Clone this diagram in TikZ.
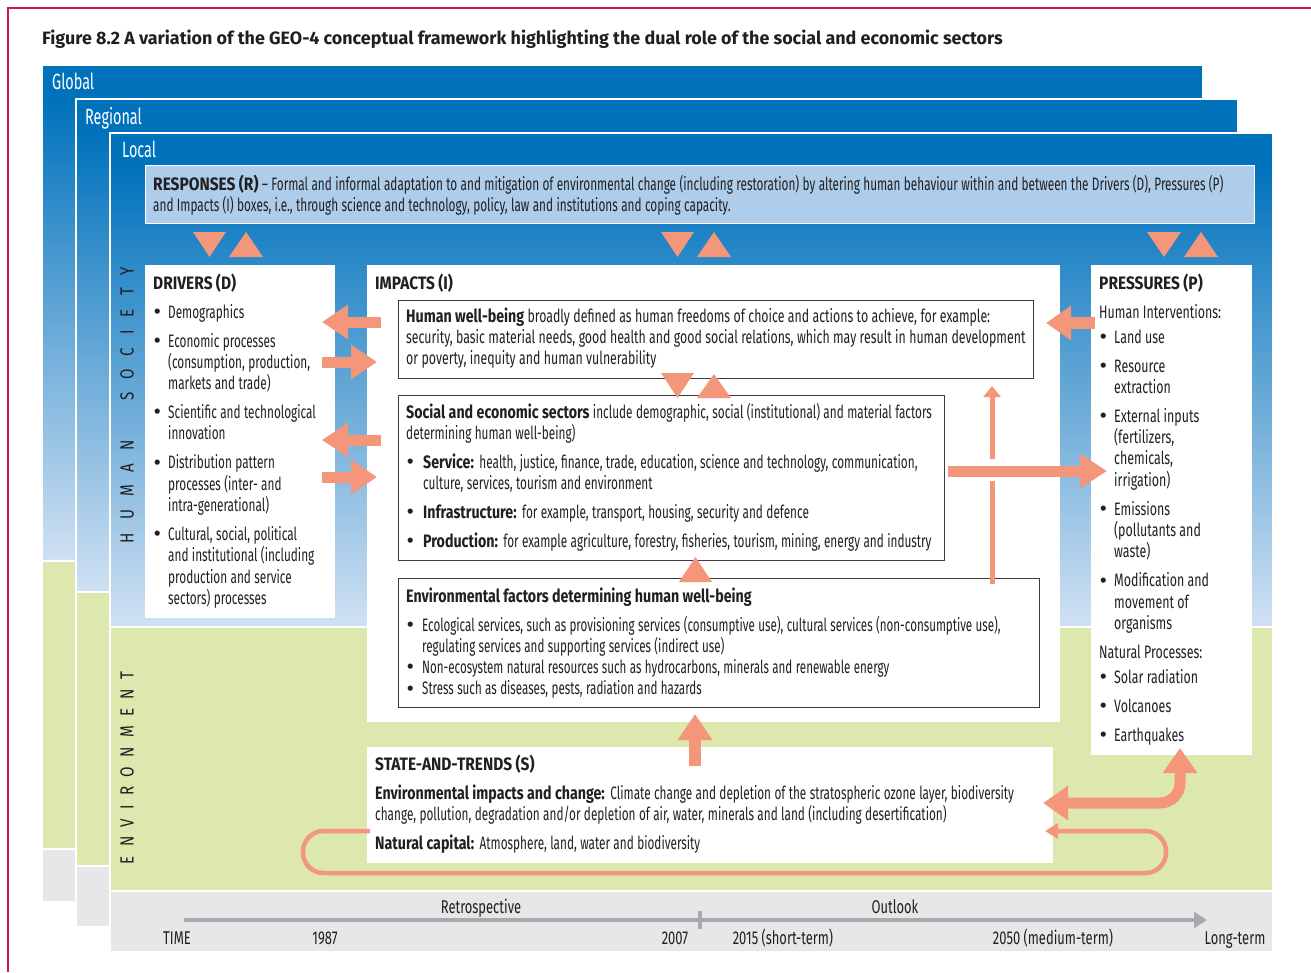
\documentclass[tikz,border=0pt]{standalone}
\usepackage{fontspec}
\setmainfont{Fira Sans}[FakeStretch=0.655]
\newfontfamily\hbfont{Fira Sans}[FakeStretch=0.79]
\newfontfamily\hdfont{Fira Sans}[FakeStretch=0.86]
\newfontfamily\prfont{Fira Sans}[FakeStretch=0.69]
\newfontfamily\hwfont{Fira Sans}[FakeStretch=0.685]
\newfontfamily\enfont{Fira Sans}[FakeStretch=0.645]
\newfontfamily\tmfont{Fira Sans}[FakeStretch=0.70]
\newfontfamily\plainfont{Fira Sans}
\newfontfamily\vfont{Fira Sans}[FakeStretch=0.8]
\usetikzlibrary{arrows.meta}
\definecolor{dkblue}{RGB}{0,114,188}
\definecolor{ltblue}{RGB}{208,225,243}
\definecolor{respc}{RGB}{173,205,235}
\definecolor{greenc}{RGB}{220,232,173}
\definecolor{greyc}{RGB}{230,231,232}
\definecolor{salmon}{RGB}{244,150,122}
\definecolor{axisc}{RGB}{167,169,172}
\definecolor{txtc}{RGB}{35,31,32}
\definecolor{framec}{RGB}{196,30,72}
\definecolor{boxc}{RGB}{60,60,60}
\newcommand\bld[1]{{\hbfont\bfseries #1}}
\newcommand\hdg[1]{{\hdfont\bfseries #1}}
\newcommand\bul{\smash{\plainfont\fontsize{23}{20}\selectfont\raisebox{-1.2pt}{•}}}
\newcommand\itm[2][15pt]{\par\hangindent=#1\hangafter=1\noindent\makebox[#1][l]{\hspace{0.5pt}\bul}#2}
\newcommand\drawlayer[7]{%
  \fill[greyc] (#1,#6) rectangle (#4,#7);
  \fill[greenc] (#1,#5) rectangle (#4,#6);
  \shade[top color=dkblue, bottom color=ltblue] (#1,#3) rectangle (#4,#5);
  \fill[dkblue] (#1,#2) rectangle (#4,#3);
  \draw[white, line width=1.3pt] (#1,#5) -- (#4,#5) (#1,#6) -- (#4,#6);
  \draw[white, line width=1.5pt] (#1,#2) rectangle (#4,#7);
}
\newcommand\gp{\hspace{13pt}}
\newcommand\gq{\hspace{9.3pt}}
\newcommand\wsp{\nonfrenchspacing\spaceskip=3.4pt plus 1pt minus 0.5pt\relax\xspaceskip=5.5pt plus 1pt minus 0.5pt\relax}
\begin{document}
\begin{tikzpicture}[x=1pt,y=-1pt,
  txt/.style={anchor=base west, inner sep=0pt, align=left, text=txtc,
    font=\fontsize{18}{21.3}\selectfont},
  lbl/.style={anchor=base, inner sep=0pt, text=txtc, font=\tmfont\fontsize{18.5}{21}\selectfont\wsp},
  layerlbl/.style={anchor=base west, inner sep=0pt, text=white, font=\fontsize{22}{24}\selectfont},
  whitebox/.style={anchor=north west, fill=white, draw=none, inner sep=0pt},
  framebox/.style={anchor=north west, fill=white, draw=boxc, line width=0.9pt, inner sep=0pt},
  respbox/.style={anchor=north west, fill=respc, draw=white, line width=1pt, inner sep=0pt},
  barrow/.style={draw=salmon, line width=11pt, -{Triangle[length=26pt,width=33pt]}},
  thinarrow/.style={draw=salmon, line width=5pt, -{Triangle[length=11pt,width=17pt]}},
  tri/.style={fill=salmon},
  vlbl/.style={rotate=90, anchor=center, inner sep=0pt, text=txtc, font=\vfont\fontsize{19}{21}\selectfont}
]
\useasboundingbox (0,0) rectangle (1311,972);
\fill[white] (0,0) rectangle (1311,972);
\draw[framec, line width=1.4pt] (8,972) -- (8,8) -- (1311,8);

\node[anchor=base west, inner sep=0pt, text=txtc, font=\plainfont\bfseries\fontsize{17.9}{20}\selectfont] (title) at (42,44)
  {Figure 8.2 A variation of the GEO-4 conceptual framework highlighting the dual role of the social and economic sectors};

% layers
\drawlayer{42}{65}{98}{1203}{561}{849}{902}
\drawlayer{76}{99}{132}{1238}{592}{866}{927}
\drawlayer{110}{133}{165}{1273}{627}{891}{952}
\node[layerlbl] (lglobal) at (52,89) {Global};
\node[layerlbl] (lregional) at (85,124) {Regional};
\node[layerlbl] (llocal) at (122,157) {Local};

% boxes
\node[respbox, minimum width=1109pt, minimum height=58pt] (resp) at (145,165) {};
\node[whitebox, minimum width=190pt, minimum height=353pt] (drivers) at (145,265) {};
\node[whitebox, minimum width=693pt, minimum height=457pt] (impacts) at (367,265) {};
\node[whitebox, minimum width=161pt, minimum height=490pt] (pressures) at (1091,265) {};
\node[whitebox, minimum width=686pt, minimum height=116pt] (state) at (367,747) {};
\node[framebox, minimum width=635pt, minimum height=78pt] (hwb) at (398,300) {};
\node[framebox, minimum width=546pt, minimum height=165pt] (social) at (398,395) {};
\node[framebox, minimum width=641pt, minimum height=129pt] (envf) at (398,578) {};

% triangles
\fill[tri] (193,232) -- (226,232) -- (209.5,257) -- cycle;
\fill[tri] (229,257) -- (263,257) -- (246,232) -- cycle;
\fill[tri] (661,232) -- (694,232) -- (677.5,257) -- cycle;
\fill[tri] (697,257) -- (731,257) -- (714,232) -- cycle;
\fill[tri] (1147,232) -- (1181,232) -- (1164,257) -- cycle;
\fill[tri] (1184,257) -- (1218,257) -- (1201,232) -- cycle;
\fill[tri] (661,373) -- (694,373) -- (677.5,398) -- cycle;
\fill[tri] (697,398) -- (731,398) -- (714,374) -- cycle;
\fill[tri] (679,582) -- (712,582) -- (695.5,557) -- cycle;

% block arrows
\coordinate (a1s) at (381,322); \coordinate (a1e) at (322,322);
\coordinate (a2s) at (322,362); \coordinate (a2e) at (377,362);
\coordinate (a3s) at (381,440); \coordinate (a3e) at (322,440);
\coordinate (a4s) at (322,477); \coordinate (a4e) at (377,477);
\draw[barrow] (a1s) -- (a1e);
\draw[barrow] (a2s) -- (a2e);
\draw[barrow] (a3s) -- (a3e);
\draw[barrow] (a4s) -- (a4e);
\coordinate (p1s) at (1095,323); \coordinate (p1e) at (1046,323);
\draw[barrow, line width=12pt, -{Triangle[length=25pt,width=33pt]}] (p1s) -- (p1e);
\coordinate (v1a) at (992,584); \coordinate (v1b) at (992,481);
\coordinate (v1c) at (992,459); \coordinate (v1d) at (992,386);
\draw[salmon, line width=5pt] (v1a) -- (v1b);
\draw[thinarrow] (v1c) -- (v1d);
\coordinate (h1s) at (948,471); \coordinate (h1e) at (1107,471);
\draw[barrow, -{Triangle[length=27pt,width=33pt]}] (h1s) -- (h1e);
\coordinate (u1s) at (695,766); \coordinate (u1e) at (695,714);
\draw[barrow, line width=12pt] (u1s) -- (u1e);
\coordinate (c1) at (1043,803); \coordinate (c2) at (1180,748);
\draw[draw=salmon, line width=11pt, rounded corners=20pt,
  {Triangle[length=25pt,width=33pt]}-{Triangle[length=25pt,width=33pt]}] (c1) -| (c2);
\coordinate (l0) at (370,831); \coordinate (l1) at (303,831); \coordinate (l2) at (303,873);
\coordinate (l3) at (1166,873); \coordinate (l4) at (1166,831); \coordinate (l5) at (1045,831);
\draw[salmon, line width=4.5pt, rounded corners=20.5pt, -{Triangle[length=13pt,width=15pt]}]
  (l0) -- (l1) -- (l2) -- (l3) -- (l4) -- (l5);

% time axis
\coordinate (t0) at (184,920); \coordinate (t1) at (1207,920);
\draw[axisc, line width=3.5pt, -{Triangle[length=13pt,width=16pt]}] (t0) -- (t1);
\coordinate (tk0) at (700,911); \coordinate (tk1) at (700,929);
\draw[axisc, line width=3.5pt] (tk0) -- (tk1);
\node[lbl] (retro) at (481,913) {Retrospective};
\node[lbl] (outlook) at (895,913) {Outlook};
\node[lbl] (time) at (177,944) {TIME};
\node[lbl] (y1987) at (325,944) {1987};
\node[lbl] (y2007) at (675,944) {2007};
\node[lbl] (y2015) at (783,944) {2015 (short-term)};
\node[lbl] (y2050) at (1053,944) {2050 (medium-term)};
\node[lbl] (ylong) at (1235,944) {Long-term};

% vertical labels
\node[vlbl] (hs) at (127,405) {H\gp U\gp M\gp A\gp N\gp\gp\gp S\gp O\gp C\gp I\gp E\gp T\gp Y};
\node[vlbl] (en) at (127,768) {E\gq N\gq V\gq I\gq R\gq O\gq N\gq M\gq E\gq N\gq T};

% texts
\node[txt, text width=1105pt] (resptx) at (153,190) {\wsp\hdg{RESPONSES (R)} – Formal and informal adaptation to and mitigation of environmental change (including restoration) by altering human behaviour within and between the Drivers (D), Pressures (P)\newline and Impacts (I) boxes, i.e.,\ through science and technology, policy, law and institutions and coping capacity.\par};

\node[txt, text width=185pt] (dtx) at (153,289) {\wsp\setlength{\parskip}{7.7pt}\hdg{DRIVERS (D)}
\itm{Demographics}
\itm{Economic processes\newline (consumption, production,\newline markets and trade)}
\itm{Scientific and technological\newline innovation}
\itm{Distribution pattern\newline processes (inter- and\newline intra-generational)}
\itm{Cultural, social, political\newline and institutional (including\newline production and service\newline sectors) processes}\par};

\node[txt] (itx) at (375,289) {\wsp\hdg{IMPACTS (I)}};

\node[txt, text width=640pt] (hwbtx) at (406,322) {\hwfont\wsp\bld{Human well-being} broadly defined as human freedoms of choice and actions to achieve, for example:\newline security, basic material needs, good health and good social relations, which may result in human development\newline or poverty, inequity and human vulnerability\par};

\node[txt, text width=560pt] (soctx) at (406,418) {\wsp\setlength{\parskip}{7.5pt}\bld{Social and economic sectors} include demographic, social (institutional) and material factors\newline determining human well-being)
\itm[17pt]{\bld{Service:} health, justice, finance, trade, education, science and technology, communication,\newline culture, services, tourism and environment}
\itm[17pt]{\bld{Infrastructure:} for example, transport, housing, security and defence}
\itm[17pt]{\bld{Production:} for example agriculture, forestry, fisheries, tourism, mining, energy and industry}\par};

\node[txt, text width=640pt] (envtx) at (406,602) {\enfont\wsp\bld{Environmental factors determining human well-being}\par\vspace{7.7pt}
\itm[16pt]{Ecological services, such as provisioning services (consumptive use), cultural services (non-consumptive use),\newline regulating services and supporting services (indirect use)}
\itm[16pt]{Non-ecosystem natural resources such as hydrocarbons, minerals and renewable energy}
\itm[16pt]{Stress such as diseases, pests, radiation and hazards}\par};

\node[txt, text width=155pt] (ptx) at (1099,289) {\prfont\wsp\setlength{\parskip}{7.7pt}\hdg{PRESSURES (P)}
\par Human Interventions:\par\vspace{-4pt}
\itm{Land use}
\itm{Resource\newline extraction}
\itm{External inputs\newline (fertilizers,\newline chemicals,\newline irrigation)}
\itm{Emissions\newline (pollutants and\newline waste)}
\itm{Modification and\newline movement of\newline organisms}
\par Natural Processes:\par\vspace{-4pt}
\itm{Solar radiation}
\itm{Volcanoes}
\itm{Earthquakes}\par};

\node[txt, text width=690pt] (sttx) at (375,770) {\wsp\setlength{\parskip}{7.7pt}\hdg{STATE-AND-TRENDS (S)}\par
\bld{Environmental impacts and change:} Climate change and depletion of the stratospheric ozone layer, biodiversity\newline change, pollution, degradation and/or depletion of air, water, minerals and land (including desertification)\par
\bld{Natural capital:} Atmosphere, land, water and biodiversity\par};
\end{tikzpicture}
\end{document}
